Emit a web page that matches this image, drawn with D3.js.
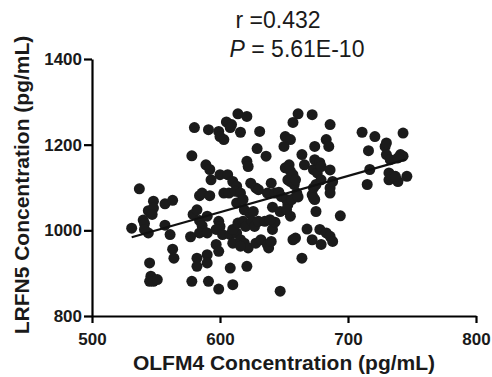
<!DOCTYPE html>
<html>
<head>
<meta charset="utf-8">
<script src="https://cdn.jsdelivr.net/npm/d3@7"></script>
<style>
  html, body { margin: 0; padding: 0; background: #fff; }
  svg { display: block; }
</style>
</head>
<body>
<div id="chart"></div>
<script>
// OLFM4 (x) and LRFN5 (y) concentrations, pg/mL
const olfm4 = [
  531, 537, 540, 541, 544, 544, 545, 548, 548, 547, 545, 546, 545, 548, 551, 541,
  557, 563, 557, 561, 563, 564,
  578, 580, 577, 579, 582, 584, 586, 582, 582, 578, 584, 586, 587, 584, 589, 592,
  593, 591, 590, 590, 591, 590, 592, 590,
  599, 600, 603, 605, 609, 608, 614, 616, 600, 606, 603, 607, 610, 613, 612, 616,
  599, 600, 597, 602, 597, 599, 599, 608, 610, 608, 610, 613, 610, 614, 613,
  621, 621, 622, 624, 628, 630, 618, 619, 623, 626, 618, 620, 616, 619, 622, 616,
  621, 625, 627, 630, 631, 629, 636, 628, 632, 635,
  640, 637, 643, 637, 638, 641, 643, 640, 639, 646, 641, 647, 647, 650, 651, 655,
  651, 654, 655, 653, 648, 652, 653, 656, 655, 657, 652, 655,
  657, 661, 657, 659, 658, 660, 661, 659, 664, 664, 666, 668, 672, 672, 673, 674,
  674, 673, 672, 674, 675, 673, 676, 678, 675,
  679, 678, 679, 679, 683, 685, 686, 686, 686, 686, 683, 686, 688, 688, 694,
  711, 715, 716, 717, 721, 729, 730, 730, 733, 732, 735, 732, 739, 737, 741, 743,
  743, 746, 739
];
const lrfn5 = [
  1005, 1097, 1024, 1016, 1046, 994, 1044, 1068, 1052, 1037, 924, 893, 881, 881, 885, 1002,
  1062, 1070, 1012, 990, 956, 935,
  1174, 1240, 985, 1037, 1048, 1081, 1087, 935, 916, 881, 1023, 1011, 998, 994, 1153, 1142,
  1118, 1235, 943, 924, 881, 1033, 1081, 994,
  1231, 1219, 1212, 1253, 1247, 1240, 1272, 1229, 1130, 1130, 1087, 1087, 1114, 1103, 1091, 1087,
  1021, 1009, 1002, 990, 967, 951, 863, 912, 873, 990, 970, 994, 1002, 1017, 1064,
  1266, 1161, 1149, 1110, 1099, 1095, 1072, 1048, 1040, 1044, 1021, 1009, 978, 970, 959, 963,
  916, 1021, 1009, 1021, 1231, 1191, 1173, 970, 978, 1021,
  1110, 1087, 1087, 967, 959, 1002, 1019, 974, 1025, 1089, 1054, 1044, 858, 1196, 1219, 1212,
  1146, 1153, 1138, 1118, 1079, 1072, 1060, 1072, 1114, 1130, 1048, 1033,
  1252, 1272, 978, 982, 1107, 1087, 1078, 1118, 1177, 935, 1153, 1003, 1270, 978, 1142, 1196,
  1165, 1099, 1083, 1072, 1044, 1076, 1134, 1158, 1107,
  967, 1002, 1118, 1149, 1212, 1196, 1247, 1141, 1099, 1087, 994, 986, 974, 1114, 1034,
  1229, 1107, 1186, 1142, 1219, 1196, 1204, 1177, 1165, 1134, 1126, 1118, 1114, 1126, 1177, 1227,
  1173, 1126, 1169
];
// fitted regression line endpoints, as drawn in the figure
const fitX = [531, 745];
const fitY = [984, 1165];

const xTicks = [500, 600, 700, 800];
const yTicks = [800, 1000, 1200, 1400];

const width = 492, height = 377;
const font = '"Liberation Sans", Arial, Helvetica, sans-serif';

const svg = d3.select('#chart').append('svg')
  .attr('width', width)
  .attr('height', height)
  .attr('viewBox', `0 0 ${width} ${height}`);

const x = d3.scaleLinear().domain([500, 800]).range([92, 476]);
const y = d3.scaleLinear().domain([800, 1400]).range([316, 59]);

// points
const pts = olfm4.map((v, i) => ({ x: v, y: lrfn5[i] }));
svg.append('g')
  .selectAll('circle')
  .data(pts)
  .enter()
  .append('circle')
  .attr('cx', d => x(d.x))
  .attr('cy', d => y(d.y))
  .attr('r', 5.5)
  .attr('fill', '#1b1b1b');

// regression line
svg.append('line')
  .attr('x1', x(fitX[0])).attr('y1', y(fitY[0]))
  .attr('x2', x(fitX[1])).attr('y2', y(fitY[1]))
  .attr('stroke', '#111')
  .attr('stroke-width', 2.2);

// axes
const fmt = d3.format('d');
const xAxis = svg.append('g')
  .attr('transform', `translate(0,${y(800)})`)
  .call(d3.axisBottom(x).tickValues(xTicks).tickFormat(fmt)
    .tickSize(7).tickSizeOuter(0).tickPadding(10));
const yAxis = svg.append('g')
  .attr('transform', `translate(${x(500)},0)`)
  .call(d3.axisLeft(y).tickValues(yTicks).tickFormat(fmt)
    .tickSize(8).tickSizeOuter(0).tickPadding(2));

[xAxis, yAxis].forEach(a => {
  a.select('.domain').attr('stroke', '#000').attr('stroke-width', 2.2);
  a.selectAll('.tick line').attr('stroke', '#000').attr('stroke-width', 2.2);
  a.selectAll('text')
    .style('font-family', font)
    .style('font-size', '17px')
    .style('font-weight', 'bold')
    .attr('fill', '#1a1a1a');
});

// axis titles
svg.append('text')
  .attr('x', 284)
  .attr('y', 370)
  .attr('text-anchor', 'middle')
  .style('font-family', font)
  .style('font-size', '21px')
  .style('font-weight', 'bold')
  .attr('fill', '#1a1a1a')
  .text('OLFM4 Concentration (pg/mL)');

svg.append('text')
  .attr('transform', 'translate(29,185) rotate(-90)')
  .attr('text-anchor', 'middle')
  .style('font-family', font)
  .style('font-size', '21px')
  .style('font-weight', 'bold')
  .attr('fill', '#1a1a1a')
  .text('LRFN5 Concentration (pg/mL)');

// stats
svg.append('text')
  .attr('x', 278)
  .attr('y', 28)
  .attr('text-anchor', 'middle')
  .style('font-family', font)
  .style('font-size', '23px')
  .attr('fill', '#1a1a1a')
  .text('r =0.432');

const p = svg.append('text')
  .attr('x', 297)
  .attr('y', 57)
  .attr('text-anchor', 'middle')
  .style('font-family', font)
  .style('font-size', '23px')
  .attr('fill', '#1a1a1a');
p.append('tspan').style('font-style', 'italic').text('P');
p.append('tspan').text(' = 5.61E-10');
</script>
</body>
</html>
